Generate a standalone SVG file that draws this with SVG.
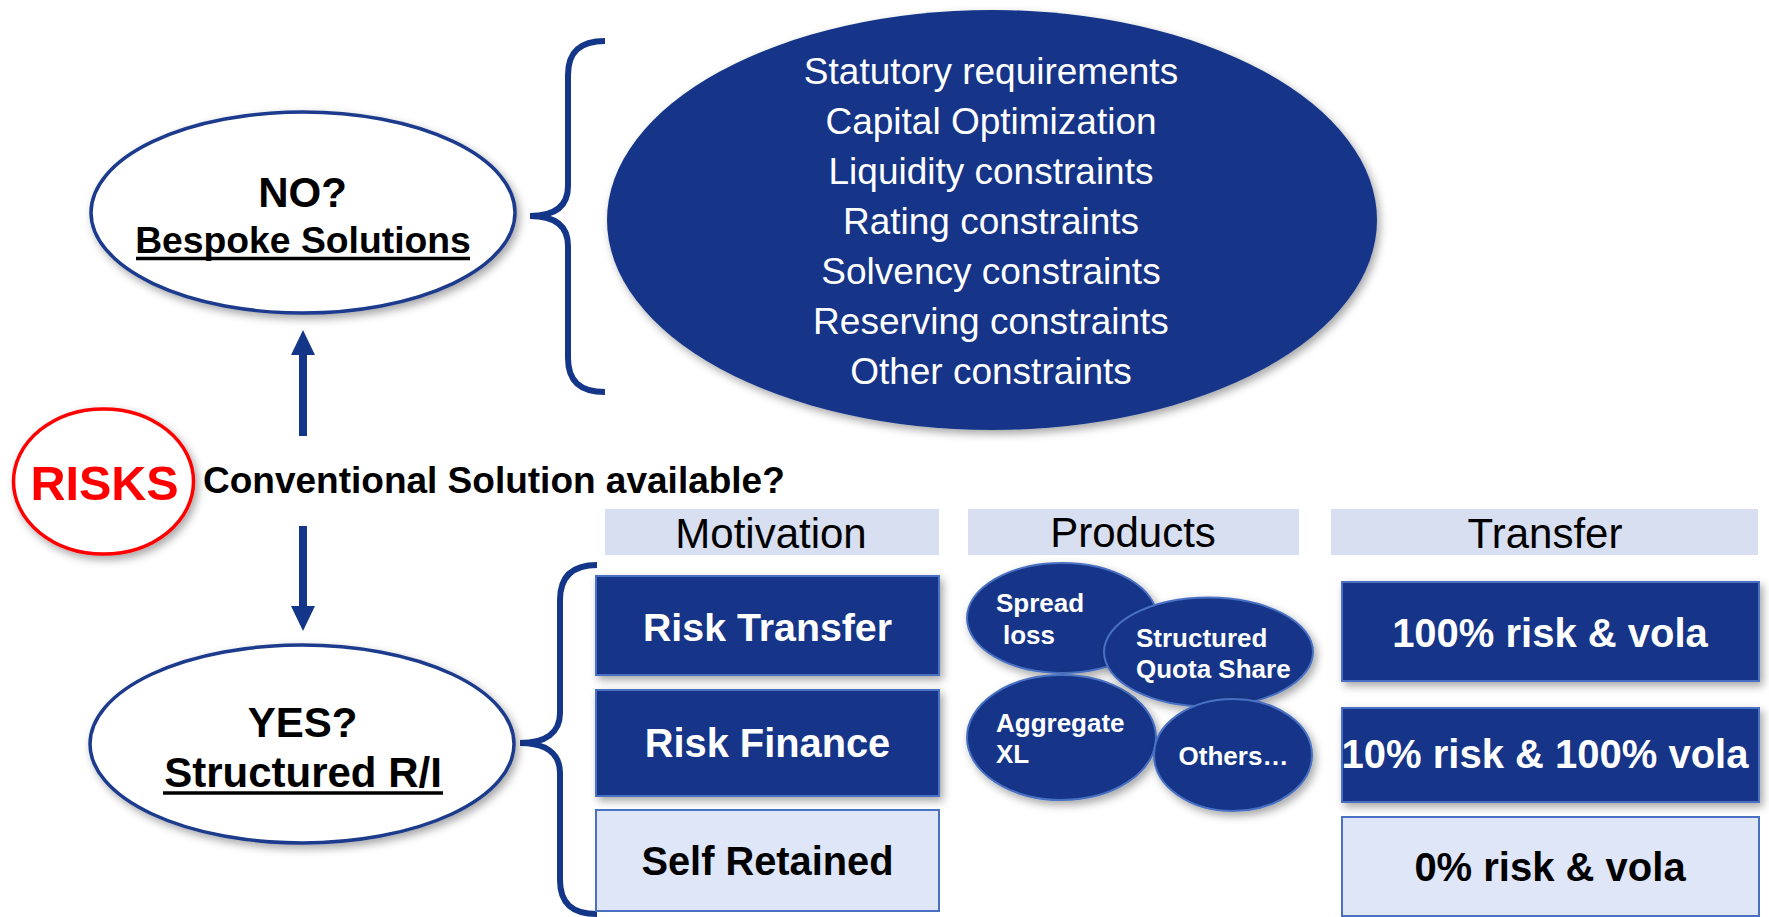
<svg xmlns="http://www.w3.org/2000/svg" width="1769" height="917" viewBox="0 0 1769 917">
  <defs>
    <filter id="shadow" x="-10%" y="-10%" width="125%" height="130%">
      <feDropShadow dx="3" dy="4" stdDeviation="4" flood-color="#000" flood-opacity="0.35"/>
    </filter>
    <marker id="head" markerUnits="userSpaceOnUse" markerWidth="26" markerHeight="24" refX="0" refY="12" orient="auto">
      <path d="M0,0 L25,12 L0,24 z" fill="#143688"/>
    </marker>
    <style>
      text { font-family: "Liberation Sans", Arial, sans-serif; }
      .bold { font-weight: bold; }
      .q-oval { fill: #fff; stroke: #1B3A8C; stroke-width: 3.5; filter: url(#shadow); }
      .dark { fill: #143688; }
      .dark-box { fill: #143688; stroke: #4A70C2; stroke-width: 2; filter: url(#shadow); }
      .light-box { fill: #DFE6F7; stroke: #4A70C2; stroke-width: 2; }
      .head-box { fill: #D7DFF0; }
      .prod { fill: #143688; stroke: #4A70C2; stroke-width: 2; filter: url(#shadow); }
      .brace { fill: none; stroke: #143688; stroke-width: 6; stroke-linecap: butt; }
      .arrow { stroke: #143688; stroke-width: 8; fill: none; marker-end: url(#head); }
      .white { fill: #fff; }
      .black { fill: #000; }
      .ul { stroke: #000; stroke-width: 3.5; }
    </style>
  </defs>

  <!-- connectors: arrows from the question to the two answers -->
  <g id="connectors">
    <line class="arrow" x1="303" y1="436" x2="303" y2="355"/>
    <line class="arrow" x1="303" y1="526" x2="303" y2="606"/>
  </g>

  <!-- curly braces -->
  <g id="braces">
    <path class="brace" d="M605,41 C580,41 568,52 568,75 L568,186 C568,206 555,216 530,216 C555,216 568,226 568,246 L568,358 C568,381 580,392 605,392"/>
    <path class="brace" d="M597,565 C572,565 560,577 560,600 L560,713 C560,733 545,743 520,743 C545,743 560,753 560,773 L560,880 C560,903 572,914 597,914"/>
  </g>

  <g id="risks">
    <ellipse cx="103.5" cy="481.5" rx="90" ry="72.5" fill="#fff" stroke="#FF0000" stroke-width="3.5" filter="url(#shadow)"/>
    <text x="104.5" y="500" text-anchor="middle" class="bold" font-size="48.5" fill="#FF0000">RISKS</text>
  </g>

  <g id="question">
    <text x="203" y="493" class="bold black" font-size="37">Conventional Solution available?</text>
  </g>

  <g id="no-node">
    <ellipse class="q-oval" cx="303" cy="212.5" rx="212" ry="100.5"/>
    <text x="302.5" y="207" text-anchor="middle" class="bold black" font-size="42">NO?</text>
    <text x="303" y="252.5" text-anchor="middle" class="bold black" font-size="37.3">Bespoke Solutions</text>
    <line class="ul" x1="136" y1="258.5" x2="470" y2="258.5"/>
  </g>

  <g id="yes-node">
    <ellipse class="q-oval" cx="302" cy="744" rx="212" ry="99"/>
    <text x="302.5" y="737" text-anchor="middle" class="bold black" font-size="42">YES?</text>
    <text x="303" y="787" text-anchor="middle" class="bold black" font-size="42">Structured R/I</text>
    <line class="ul" x1="163" y1="793" x2="443" y2="793"/>
  </g>

  <g id="constraints">
    <ellipse class="dark" cx="992" cy="220" rx="385" ry="210" filter="url(#shadow)"/>
    <g class="white" font-size="37" text-anchor="middle">
      <text x="991" y="84">Statutory requirements</text>
      <text x="991" y="134">Capital Optimization</text>
      <text x="991" y="184">Liquidity constraints</text>
      <text x="991" y="234">Rating constraints</text>
      <text x="991" y="284">Solvency constraints</text>
      <text x="991" y="334">Reserving constraints</text>
      <text x="991" y="384">Other constraints</text>
    </g>
  </g>

  <!-- column headers -->
  <g id="header-motivation">
    <rect class="head-box" x="605" y="509" width="334" height="46"/>
    <text x="771" y="548" text-anchor="middle" class="black" font-size="42">Motivation</text>
  </g>
  <g id="header-products">
    <rect class="head-box" x="968" y="509" width="331" height="46"/>
    <text x="1133" y="547" text-anchor="middle" class="black" font-size="42">Products</text>
  </g>
  <g id="header-transfer">
    <rect class="head-box" x="1331" y="509" width="427" height="46"/>
    <text x="1545" y="548" text-anchor="middle" class="black" font-size="42">Transfer</text>
  </g>

  <!-- motivation column -->
  <g id="risk-transfer">
    <rect class="dark-box" x="596" y="576" width="343" height="99"/>
    <text x="767.5" y="641" text-anchor="middle" class="bold white" font-size="39.3">Risk Transfer</text>
  </g>
  <g id="risk-finance">
    <rect class="dark-box" x="596" y="690" width="343" height="106"/>
    <text x="767.5" y="757" text-anchor="middle" class="bold white" font-size="39.8">Risk Finance</text>
  </g>
  <g id="self-retained">
    <rect class="light-box" x="596" y="810" width="343" height="101"/>
    <text x="767.5" y="875" text-anchor="middle" class="bold black" font-size="39.8">Self Retained</text>
  </g>

  <!-- products column -->
  <g id="spread-loss">
    <ellipse class="prod" cx="1062" cy="618" rx="95" ry="55"/>
    <text x="996" y="612" class="bold white" font-size="26">Spread</text>
    <text x="1003" y="644" class="bold white" font-size="26">loss</text>
  </g>
  <g id="aggregate-xl">
    <ellipse class="prod" cx="1061.5" cy="737.5" rx="94.5" ry="62.5"/>
    <text x="996" y="732" class="bold white" font-size="26">Aggregate</text>
    <text x="996" y="763" class="bold white" font-size="26">XL</text>
  </g>
  <g id="structured-qs">
    <ellipse class="prod" cx="1208.5" cy="652" rx="104.5" ry="54.5"/>
    <text x="1136" y="647" class="bold white" font-size="26">Structured</text>
    <text x="1136" y="678" class="bold white" font-size="26">Quota Share</text>
  </g>
  <g id="others">
    <ellipse class="prod" cx="1233" cy="755" rx="79" ry="56"/>
    <text x="1233.5" y="765" text-anchor="middle" class="bold white" font-size="26">Others…</text>
  </g>

  <!-- transfer column -->
  <g id="transfer-full">
    <rect class="dark-box" x="1342" y="582" width="417" height="99"/>
    <text x="1550" y="647" text-anchor="middle" class="bold white" font-size="40">100% risk &amp; vola</text>
  </g>
  <g id="transfer-partial">
    <rect class="dark-box" x="1342" y="708" width="417" height="94"/>
    <text x="1545" y="768" text-anchor="middle" class="bold white" font-size="40">10% risk &amp; 100% vola</text>
  </g>
  <g id="transfer-none">
    <rect class="light-box" x="1342" y="817" width="417" height="99"/>
    <text x="1550" y="881" text-anchor="middle" class="bold black" font-size="40">0% risk &amp; vola</text>
  </g>
</svg>
